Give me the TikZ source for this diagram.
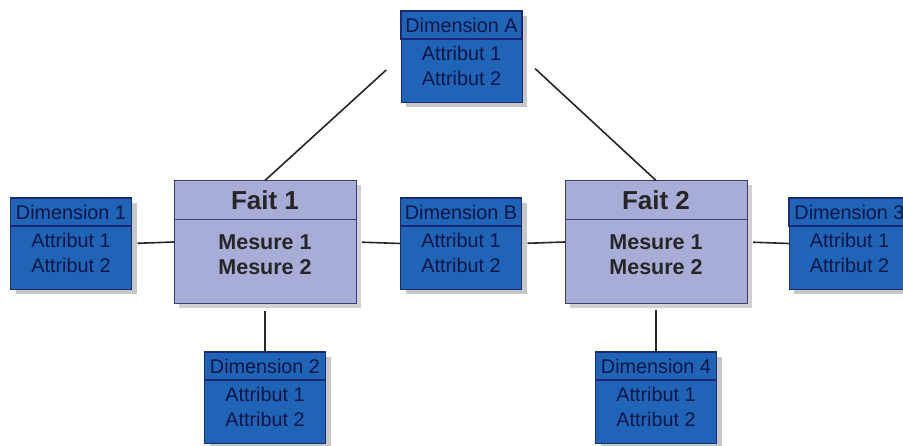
\documentclass[tikz,border=0pt]{standalone}
\usepackage{fontspec}
\setmainfont{Liberation Sans}
\usetikzlibrary{shadows, positioning}
\definecolor{dimblue}{RGB}{31,100,182}
\definecolor{dimline}{RGB}{26,40,120}
\definecolor{dimtext}{RGB}{12,22,70}
\definecolor{faitfill}{RGB}{168,173,216}
\definecolor{faitline}{RGB}{58,62,118}
\tikzset{%
  % Specifications for style of nodes:
            dimbox/.style = {rectangle, draw=dimline, fill=dimblue,
                            minimum width=121pt, minimum height=91pt, outer sep=0pt,
                            drop shadow={shadow xshift=5pt, shadow yshift=-5pt,
                            fill=black!22, opacity=1}},
            dimhead/.style = {rectangle, draw=dimline, line width=1.2pt, anchor=north,
                            minimum width=121pt, minimum height=28pt, inner sep=0pt,
                            outer sep=0pt, text=dimtext, font=\fontsize{19.8}{25}\selectfont},
            dimattr/.style = {align=center, inner sep=0pt, text=dimtext,
                            font=\fontsize{19.8}{25}\selectfont},
            faitbox/.style = {rectangle, draw=faitline, line width=0.9pt, fill=faitfill,
                            minimum width=182pt, minimum height=123pt, outer sep=0pt,
                            drop shadow={shadow xshift=5pt, shadow yshift=-5pt,
                            fill=black!18, opacity=1}},
            faithead/.style = {rectangle, draw=faitline, line width=0.9pt, anchor=north,
                            minimum width=182pt, minimum height=39pt, inner sep=0pt,
                            outer sep=0pt, text=black!85, font=\bfseries\fontsize{26}{30}\selectfont},
            faitmes/.style = {align=center, inner sep=0pt, text=black!85,
                            font=\bfseries\fontsize{21.5}{25}\selectfont},
            link/.style = {draw=black!85, line width=1.6pt}
}
\begin{document}
\begin{tikzpicture}[x=1pt, y=-1pt]
                        \useasboundingbox (0,0) rectangle (903,446);
                        % facts
                        \node[faitbox] (f1) at (265,242) {};
                        \node[faithead] (f1-h) at (f1.north) {Fait 1};
                        \node[faitmes] (f1-m) at ([yshift=-13pt]f1.center) {Mesure 1\\Mesure 2};
                        \node[faitbox] (f2) at (656,242) {};
                        \node[faithead] (f2-h) at (f2.north) {Fait 2};
                        \node[faitmes] (f2-m) at ([yshift=-13pt]f2.center) {Mesure 1\\Mesure 2};
                        % dimensions
                        \foreach \n/\x/\y/\t in {dimA/461.5/56.5/A, dim1/71/243.5/1,
                          dimB/461/243.5/B, dim3/849.5/243.5/3, dim2/265/397.5/2, dim4/656/397.5/4}{
                          \node[dimbox] (\n) at (\x,\y) {};
                          \node[dimhead] (\n-h) at (\n.north) {Dimension \t};
                          \node[dimattr] (\n-a) at ([yshift=-9pt]\n.center) {Attribut 1\\Attribut 2};
                        }
                        % connectors
                        \draw[link, shorten >=20pt] (f1.north) -- (dimA.west);
                        \draw[link, shorten >=18pt] (f2.north) -- (dimA.east);
                        \draw[link, shorten <=6pt] (dim1.east) -- (f1.west);
                        \draw[link, shorten <=6pt] (f1.east) -- (dimB.west);
                        \draw[link, shorten <=6pt] (dimB.east) -- (f2.west);
                        \draw[link, shorten <=6pt] (f2.east) -- (dim3.west);
                        \draw[link, shorten <=8pt] (f1.south) -- (dim2.north);
                        \draw[link, shorten <=7pt] (f2.south) -- (dim4.north);
\end{tikzpicture}
\end{document}
